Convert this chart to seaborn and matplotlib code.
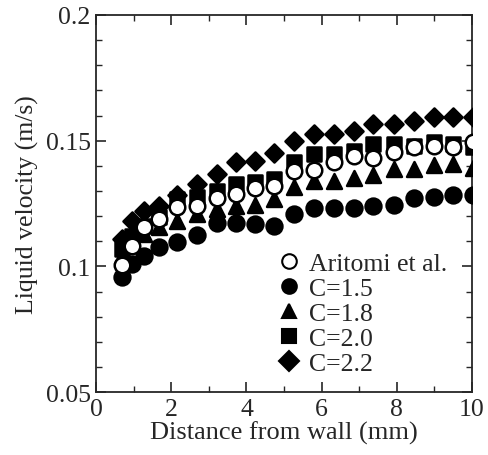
import numpy as np
import pandas as pd
import matplotlib
matplotlib.use('Agg')
import matplotlib.pyplot as plt
import seaborn as sns
from matplotlib.ticker import MultipleLocator, FuncFormatter
from matplotlib.lines import Line2D

# distance from wall (mm)
dist = [0.69, 0.96, 1.27, 1.67, 2.15, 2.69, 3.22, 3.71, 4.24, 4.73,
        5.26, 5.79, 6.32, 6.85, 7.38, 7.92, 8.45, 8.98, 9.51, 10.04]

aritomi = [0.1004, 0.108, 0.1156, 0.119, 0.1235, 0.124, 0.1273, 0.1288, 0.131, 0.132,
           0.138, 0.1385, 0.1417, 0.144, 0.143, 0.1454, 0.1474, 0.148, 0.1474, 0.1494]
c15 = [0.0957, 0.101, 0.1043, 0.1076, 0.1096, 0.1123, 0.1173, 0.1173, 0.1169, 0.1159,
       0.1209, 0.1231, 0.1231, 0.1231, 0.1242, 0.1245, 0.1271, 0.1275, 0.1282, 0.1282]
c18 = [0.104, 0.109, 0.113, 0.1155, 0.1182, 0.1209, 0.1229, 0.124, 0.1245, 0.1269,
       0.1315, 0.1341, 0.1341, 0.1352, 0.1365, 0.1388, 0.1388, 0.1404, 0.1408, 0.139]
c20 = [0.107, 0.112, 0.116, 0.1195, 0.1269, 0.1275, 0.130, 0.1328, 0.1337, 0.1348,
       0.1414, 0.1447, 0.1447, 0.146, 0.1487, 0.1487, 0.148, 0.1494, 0.1487, 0.1474]
c22 = [0.111, 0.1182, 0.1222, 0.1242, 0.1282, 0.1328, 0.1368, 0.1414, 0.1421, 0.1451,
       0.150, 0.1527, 0.1527, 0.154, 0.1567, 0.1567, 0.158, 0.1593, 0.1593, 0.1593]

labels = ['Aritomi et al.', 'C=1.5', 'C=1.8', 'C=2.0', 'C=2.2']
values = [aritomi, c15, c18, c20, c22]
markers = ['o', 'o', '^', 's', 'D']
faces = ['white', 'black', 'black', 'black', 'black']
sizes = [125, 130, 115, 95, 85]

df = pd.DataFrame({'dist': dist * 5,
                   'vel': sum(values, []),
                   'series': np.repeat(labels, len(dist))})

sns.set_style('ticks')
plt.rcParams['font.family'] = ['Liberation Serif', 'DejaVu Serif']

fig = plt.figure(figsize=(4.88, 4.56), dpi=100)
ax = fig.add_axes([0.197, 0.138, 0.77, 0.827])

# draw back to front so the open circles sit on top
for i in [4, 3, 2, 1, 0]:
    sub = df[df['series'] == labels[i]]
    sns.scatterplot(data=sub, x='dist', y='vel', ax=ax, marker=markers[i],
                    s=sizes[i], color=faces[i], edgecolor='black', linewidth=1.8,
                    zorder=3 + (4 - i), legend=False)

ax.set_xlim(0, 10)
ax.set_ylim(0.05, 0.2)
ax.xaxis.set_major_locator(MultipleLocator(2))
ax.xaxis.set_minor_locator(MultipleLocator(1))
ax.yaxis.set_major_locator(MultipleLocator(0.05))
ax.yaxis.set_minor_locator(MultipleLocator(0.01))
ax.yaxis.set_major_formatter(FuncFormatter(lambda v, p: '%g' % round(v, 3)))
ax.tick_params(which='both', direction='in', top=True, right=True, labelsize=18.5, pad=4)
ax.tick_params(which='major', length=7, width=1.2)
ax.tick_params(which='minor', length=4, width=1)
for sp in ax.spines.values():
    sp.set_linewidth(1.3)

ax.set_xlabel('Distance from wall (mm)', fontsize=19, labelpad=1)
ax.set_ylabel('Liquid velocity (m/s)', fontsize=18.5, labelpad=5)

handles = [Line2D([], [], linestyle='none', marker=markers[i], markersize=10.5,
                  markerfacecolor=faces[i], markeredgecolor='black', markeredgewidth=1.5)
           for i in range(5)]
ax.legend(handles, labels, loc='lower right', frameon=False, fontsize=18.5,
          handletextpad=0.3, handlelength=1.0, labelspacing=0.08, borderaxespad=0,
          borderpad=0, bbox_to_anchor=(0.935, 0.045))

fig.savefig('out.png', dpi=100)
